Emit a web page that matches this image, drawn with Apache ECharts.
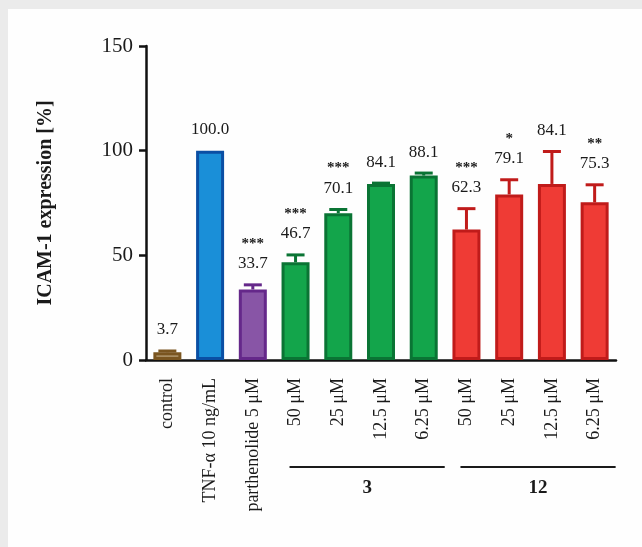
<!DOCTYPE html>
<html>
<head>
<meta charset="utf-8">
<script src="https://cdn.jsdelivr.net/npm/echarts@6/dist/echarts.min.js"></script>
<style>
  html, body { margin: 0; padding: 0; background: #ebebeb; }
  #main { width: 642px; height: 547px; }
</style>
</head>
<body>
<div id="main"></div>
<script>
const categories = ['control', 'TNF-α 10 ng/mL', 'parthenolide 5 μM',
  '50 μM', '25 μM', '12.5 μM', '6.25 μM',
  '50 μM', '25 μM', '12.5 μM', '6.25 μM'];
const values = [3.7, 100.0, 33.7, 46.7, 70.1, 84.1, 88.1, 62.3, 79.1, 84.1, 75.3];
const errors = [0.6, 0, 2.2, 3.5, 1.8, 0.4, 1.2, 10, 7, 15.5, 8.4];
const stars = ['', '', '***', '***', '***', '', '', '***', '*', '', '**'];
const groups = [
  { name: '3', from: 3, to: 6 },
  { name: '12', from: 7, to: 10 }
];

const fills = ['#a88d62', '#1a8fd8', '#8855a6', '#13a54b', '#13a54b', '#13a54b', '#13a54b',
  '#ef3b35', '#ef3b35', '#ef3b35', '#ef3b35'];
const borders = ['#7a5520', '#0a4fa4', '#65288a', '#0a7434', '#0a7434', '#0a7434', '#0a7434',
  '#c01b1a', '#c01b1a', '#c01b1a', '#c01b1a'];

const serif = '"Liberation Serif", "DejaVu Serif", serif';

const chart = echarts.init(document.getElementById('main'));

const option = {
  backgroundColor: '#ebebeb',
  animation: false,
  grid: { left: 146, top: 46, width: 470, height: 314 },
  xAxis: {
    type: 'category',
    data: categories,
    axisLine: { lineStyle: { color: '#111', width: 2.5 } },
    axisTick: { alignWithLabel: true, length: 7, lineStyle: { color: '#111', width: 2.5 } },
    axisLabel: {
      rotate: 90, interval: 0, margin: 18,
      fontFamily: serif, fontSize: 18, color: '#1a1a1a'
    }
  },
  yAxis: {
    type: 'value',
    min: 0, max: 150, interval: 50,
    name: 'ICAM-1 expression [%]',
    nameLocation: 'middle',
    nameGap: 90,
    nameRotate: 90,
    nameTextStyle: { fontFamily: serif, fontSize: 20, fontWeight: 'bold', color: '#1a1a1a' },
    splitLine: { show: false },
    axisLine: { show: true, lineStyle: { color: '#111', width: 2.5 } },
    axisTick: { show: true, length: 7, lineStyle: { color: '#111', width: 2.5 } },
    axisLabel: { fontFamily: serif, fontSize: 21, color: '#1a1a1a', margin: 13 }
  },
  series: [
    {
      type: 'bar',
      barWidth: 28,
      data: values.map((v, i) => ({
        value: v,
        itemStyle: { color: fills[i], borderColor: borders[i], borderWidth: 3 }
      })),
      z: 2
    },
    {
      type: 'custom',
      data: values.map((v, i) => [i, v, errors[i]]),
      z: 3,
      renderItem: function (params, api) {
        const i = api.value(0);
        const base = api.coord([i, api.value(1)]);
        const top = api.coord([i, api.value(1) + api.value(2)]);
        const color = borders[i];
        const children = [];
        if (api.value(2) > 0) {
          children.push({
            type: 'line',
            shape: { x1: base[0], y1: base[1], x2: top[0], y2: top[1] },
            style: { stroke: color, lineWidth: 3 }
          });
          children.push({
            type: 'line',
            shape: { x1: top[0] - 9, y1: top[1], x2: top[0] + 9, y2: top[1] },
            style: { stroke: color, lineWidth: 3 }
          });
        }
        children.push({
          type: 'text',
          style: {
            text: api.value(1).toFixed(1),
            x: top[0], y: top[1] - 21,
            align: 'center', verticalAlign: 'middle',
            font: '17px ' + serif, fill: '#1a1a1a'
          }
        });
        if (stars[i]) {
          children.push({
            type: 'text',
            style: {
              text: stars[i],
              x: top[0], y: top[1] - 41,
              align: 'center', verticalAlign: 'middle',
              font: 'bold 15px ' + serif, fill: '#1a1a1a'
            }
          });
        }
        return { type: 'group', children: children };
      }
    }
  ]
};

chart.setOption(option);

// white panel plus group brackets placed from the axis scale
const graphics = [{
  type: 'rect', z: -10, silent: true,
  shape: { x: 8, y: 9, width: 640, height: 545 },
  style: { fill: '#fefefe' }
}];
groups.forEach(g => {
  const x1 = chart.convertToPixel({ xAxisIndex: 0 }, g.from) - 6;
  const x2 = chart.convertToPixel({ xAxisIndex: 0 }, g.to) + 21;
  graphics.push({
    type: 'line',
    shape: { x1: x1, y1: 467, x2: x2, y2: 467 },
    style: { stroke: '#1a1a1a', lineWidth: 2 }
  });
  graphics.push({
    type: 'text',
    style: {
      text: g.name, x: (x1 + x2) / 2, y: 488,
      align: 'center', verticalAlign: 'middle',
      font: 'bold 19px ' + serif, fill: '#1a1a1a'
    }
  });
});
chart.setOption({ graphic: graphics });
</script>
</body>
</html>
